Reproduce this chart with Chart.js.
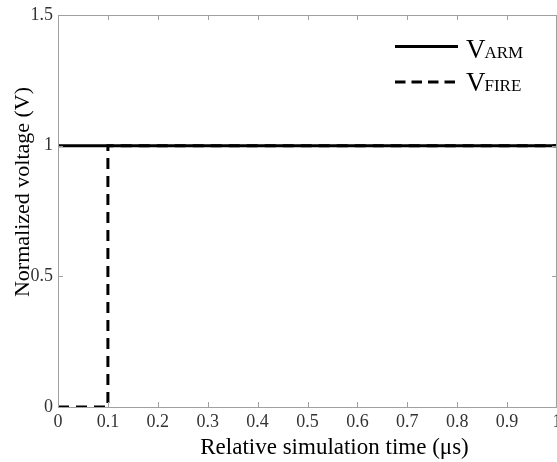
<!DOCTYPE html>
<html><head><meta charset="utf-8">
<script src="https://cdn.jsdelivr.net/npm/chart.js@4/dist/chart.umd.min.js"></script>
<style>
html,body{margin:0;padding:0;background:#fff;overflow:hidden;}
#wrap{position:relative;width:557px;height:462px;overflow:hidden;}
canvas{display:block;}
</style>
</head><body>
<div id="wrap"><canvas id="c" width="557" height="462"></canvas></div>
<script>
const xTicks = [0,0.1,0.2,0.3,0.4,0.5,0.6,0.7,0.8,0.9,1];
const yTicks = [0,0.5,1,1.5];
const armX = [0, 1];
const armY = [1, 1];
const fireX = [0, 0.1, 0.1, 1];
const fireY = [0, 0, 1, 1];
const xTitle = 'Relative simulation time (μs)';
const yTitle = 'Normalized voltage (V)';
const legendItems = [
  {main:'V', sub:'ARM', dash:[]},
  {main:'V', sub:'FIRE', dash:[10.5,6]}
];

const pts = (xs, ys) => xs.map((x,i)=>({x, y: ys[i]}));
const SERIF = '"Liberation Serif", "Times New Roman", serif';

const decorPlugin = {
  id:'decor',
  afterDraw(chart){
    const {ctx, chartArea:a, scales:{x,y}} = chart;
    ctx.save();
    // frame
    ctx.strokeStyle = '#a0a0a0';
    ctx.lineWidth = 1;
    ctx.strokeRect(a.left+0.5, a.top+0.5, a.right-a.left-1, a.bottom-a.top);
    ctx.beginPath();
    xTicks.forEach(v=>{
      const px = Math.min(Math.round(x.getPixelForValue(v)), a.right-1)+0.5;
      ctx.moveTo(px,a.bottom); ctx.lineTo(px,a.bottom-5);
      ctx.moveTo(px,a.top); ctx.lineTo(px,a.top+5);
    });
    yTicks.forEach(v=>{
      const py = Math.round(y.getPixelForValue(v))+0.5;
      ctx.moveTo(a.left,py); ctx.lineTo(a.left+5,py);
      ctx.moveTo(a.right,py); ctx.lineTo(a.right-5,py);
    });
    ctx.stroke();
    // axis titles
    ctx.fillStyle = '#000';
    ctx.textAlign = 'center';
    ctx.textBaseline = 'alphabetic';
    ctx.font = '23px ' + SERIF;
    ctx.fillText(xTitle, 334.5, 454);
    ctx.save();
    ctx.translate(29, 192);
    ctx.rotate(-Math.PI/2);
    ctx.font = '22px ' + SERIF;
    ctx.fillText(yTitle, 0, 0);
    ctx.restore();
    // legend
    const rows = [{ly:46.5, base:58}, {ly:82, base:91}];
    legendItems.forEach((it,i)=>{
      const r = rows[i];
      ctx.beginPath();
      ctx.setLineDash(it.dash);
      ctx.lineWidth = 3;
      ctx.strokeStyle = '#000';
      ctx.moveTo(395, r.ly); ctx.lineTo(458, r.ly);
      ctx.stroke();
      ctx.setLineDash([]);
      ctx.textAlign = 'left';
      ctx.font = '27px ' + SERIF;
      ctx.fillText(it.main, 466, r.base);
      const w = ctx.measureText(it.main).width;
      ctx.font = '17px ' + SERIF;
      ctx.fillText(it.sub, 466 + w - 1, r.base);
    });
    ctx.restore();
  }
};

new Chart(document.getElementById('c'), {
  type:'line',
  data:{datasets:[
    {label:'VFIRE', data:pts(fireX,fireY), borderColor:'#000', borderWidth:3, borderDash:[11,7], pointRadius:0, fill:false, tension:0},
    {label:'VARM', data:pts(armX,armY), borderColor:'#000', borderWidth:3, pointRadius:0, fill:false, tension:0}
  ]},
  options:{
    responsive:false, animation:false,
    layout:{padding:{top:15,right:0,left:0,bottom:0}},
    plugins:{legend:{display:false}, tooltip:{enabled:false}},
    scales:{
      x:{type:'linear', min:0, max:1,
        afterBuildTicks(s){ s.ticks = xTicks.map(v=>({value:v})); },
        afterFit(s){ s.height = 55; s.paddingRight = 0; s.paddingLeft = 0; },
        grid:{display:false, drawTicks:false}, border:{display:false},
        ticks:{color:'#333', padding:4, font:{family:'Liberation Serif', size:18}, maxRotation:0, autoSkip:false, callback:v=>String(v)}
      },
      y:{type:'linear', min:0, max:1.5,
        afterBuildTicks(s){ s.ticks = yTicks.map(v=>({value:v})); },
        afterFit(s){ s.width = 58; s.paddingTop = 0; s.paddingBottom = 0; },
        grid:{display:false, drawTicks:false}, border:{display:false},
        ticks:{color:'#333', padding:5, font:{family:'Liberation Serif', size:18}, callback:v=>String(v)}
      }
    }
  },
  plugins:[decorPlugin]
});
</script>
</body></html>
